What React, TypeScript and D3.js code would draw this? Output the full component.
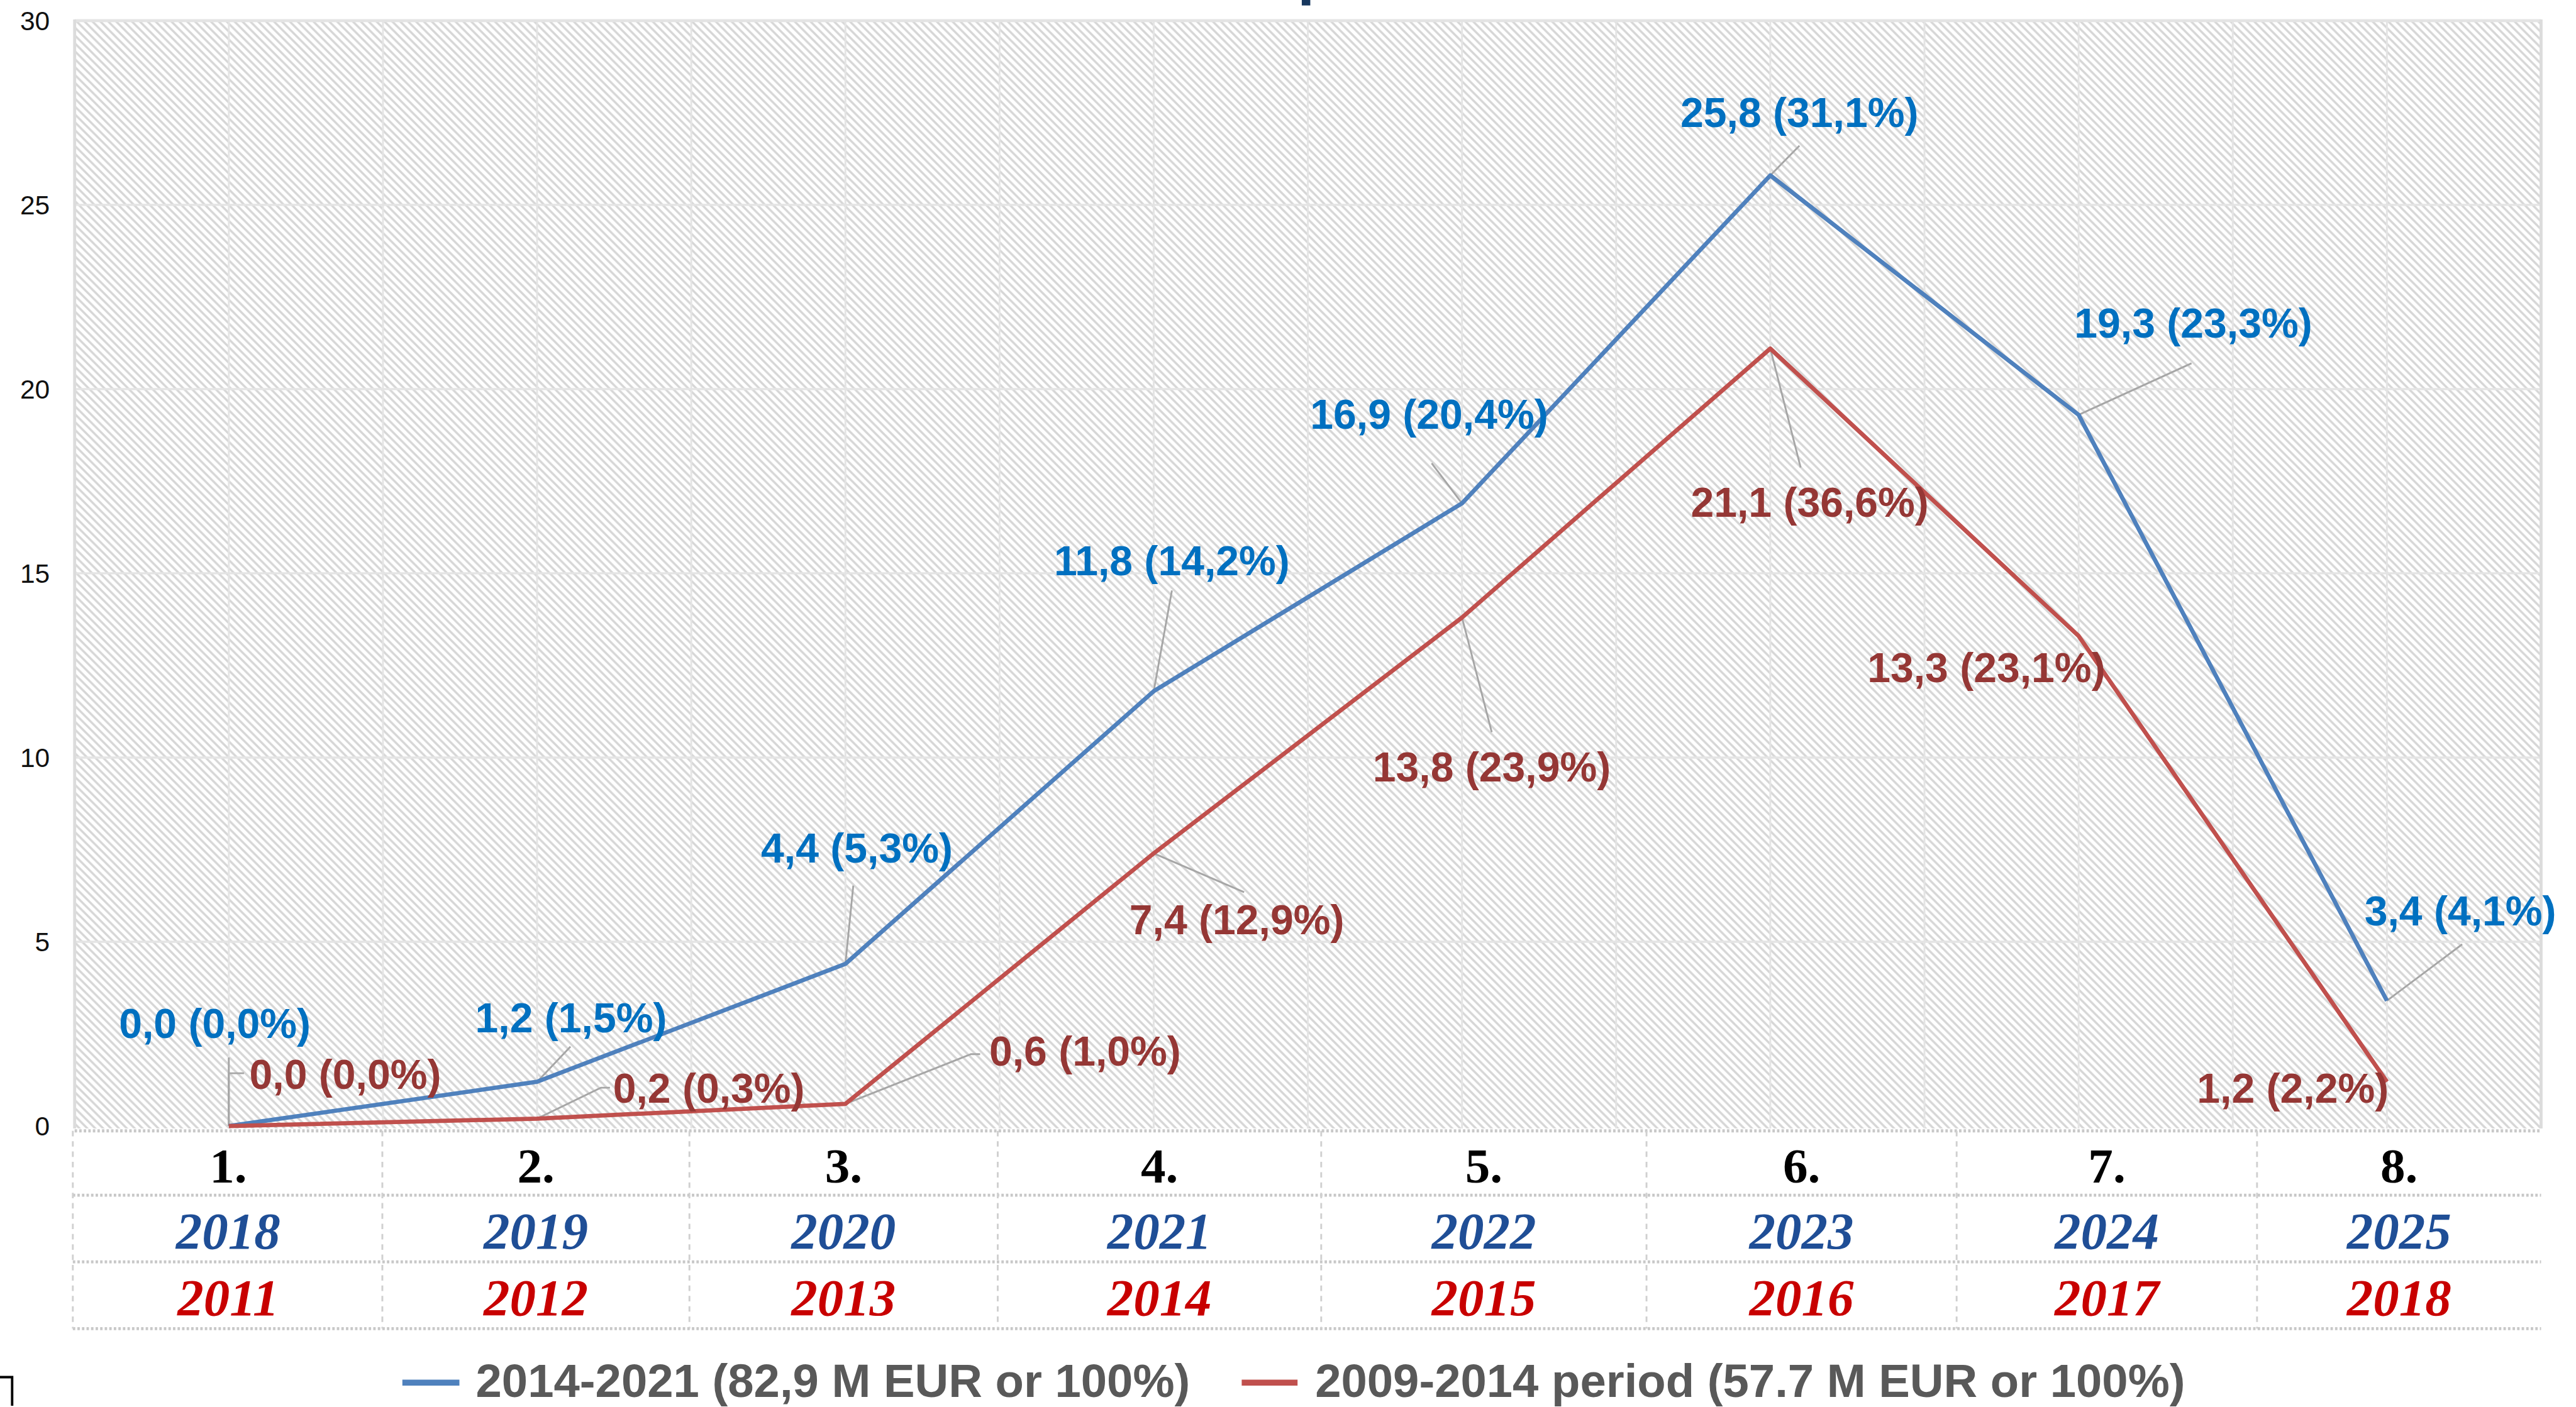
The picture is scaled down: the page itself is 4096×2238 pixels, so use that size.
import React from "react";
import * as d3 from "d3";

// ---------------- DATA ----------------
const categories = ["1.", "2.", "3.", "4.", "5.", "6.", "7.", "8."];
const yearsNew = ["2018", "2019", "2020", "2021", "2022", "2023", "2024", "2025"];
const yearsOld = ["2011", "2012", "2013", "2014", "2015", "2016", "2017", "2018"];
const seriesNewName = "2014-2021 (82,9 M EUR or 100%)";
const seriesOldName = "2009-2014 period (57.7 M EUR or 100%)";
const valuesNew = [0.0, 1.2, 4.4, 11.8, 16.9, 25.8, 19.3, 3.4];
const sharesNew = [0.0, 1.5, 5.3, 14.2, 20.4, 31.1, 23.3, 4.1];
const valuesOld = [0.0, 0.2, 0.6, 7.4, 13.8, 21.1, 13.3, 1.2];
const sharesOld = [0.0, 0.3, 1.0, 12.9, 23.9, 36.6, 23.1, 2.2];
const yTicks = [0, 5, 10, 15, 20, 25, 30];

// ---------------- LAYOUT (reference px, scaled by S) ----------------
const S = 0.965;
const W = 4241;
const H = 2317;
const PLOT = { left: 123, right: 4187, top: 34, bottom: 1856 };
const TABLE_ROWS = [1864, 1970, 2080, 2190];
const TABLE_COL_EDGES = [122, 630, 1136, 1644, 2177, 2713, 3224, 3719, 4187];
const TABLE_BASELINES = [1949, 2058, 2168];

// label centre offsets from point, leader polyline offsets from point
const labelOffNew = [[-23, -170], [56, -106], [19, -192], [30, -216], [-54, -147], [48, -104], [189, -152], [121, -149]];
const leaderNew = [[[0, -113]], [[55, -58]], [[13, -129]], [[30, -166]], [[-50, -66]], [[48, -49]], [[186, -85]], [[124, -93]]];
const labelOffOld = [[192, -86], [283, -51], [395, -88], [137, 109], [49, 246], [65, 253], [-152, 52], [-155, 10]];
const leaderOld = [[[0, -87], [25, -87]], [[105, -51], [120, -51]], [[207, -82], [222, -82]], [[149, 64]], [[49, 189]], [[50, 196]], [], []];

const COLORS = {
  lineNew: "#4F81BD",
  lineOld: "#C0504D",
  labelNew: "#0070C0",
  labelOld: "#953735",
  yearNew: "#1F4E96",
  yearOld: "#C80000",
  legend: "#595959",
  grid: "#e4e4e4",
  hatch: "#d6d6d6",
  leader: "#a6a6a6",
  table: "#c8c8c8",
};

const fmt = (v: number) => v.toFixed(1).replace(".", ",");

export default function App() {
  const x = d3.scaleBand<string>().domain(categories).range([PLOT.left, PLOT.right]).paddingInner(0).paddingOuter(0);
  const cx = (c: string) => (x(c) as number) + x.bandwidth() / 2;
  const y = d3.scaleLinear().domain([0, 30]).range([PLOT.bottom, PLOT.top]);
  const tableX = d3.scaleLinear().domain(d3.range(TABLE_COL_EDGES.length)).range(TABLE_COL_EDGES);

  const line = d3
    .line<number>()
    .x((_, i) => cx(categories[i]))
    .y((d) => y(d));

  const halfGrid = d3.range(1, categories.length * 2).map((k) => PLOT.left + (k * x.bandwidth()) / 2);

  const series = [
    { values: valuesNew, shares: sharesNew, color: COLORS.lineNew, labelColor: COLORS.labelNew, off: labelOffNew, leader: leaderNew },
    { values: valuesOld, shares: sharesOld, color: COLORS.lineOld, labelColor: COLORS.labelOld, off: labelOffOld, leader: leaderOld },
  ];

  const labelFont = 68.5;
  const labelCap = labelFont * 0.716;

  const legendItems = [
    { name: seriesNewName, color: COLORS.lineNew, x0: 663, x1: 757, tx: 784 },
    { name: seriesOldName, color: COLORS.lineOld, x0: 2046, x1: 2138, tx: 2167 },
  ];

  const P = 13;

  return (
    <svg
      width={4096}
      height={2238}
      style={{ position: "absolute", left: 0, top: 0, background: "#fff", display: "block" }}
      xmlns="http://www.w3.org/2000/svg"
    >
      <defs>
        <pattern id="hatch" patternUnits="userSpaceOnUse" width={P} height={P}>
          <rect width={P} height={P} fill="#ffffff" />
          <path d={`M-${P / 2},-${P / 2} L${P * 1.5},${P * 1.5} M${P / 2},-${P / 2} L${P * 1.5},${P / 2} M-${P / 2},${P / 2} L${P / 2},${P * 1.5}`} stroke={COLORS.hatch} strokeWidth={3.6} />
        </pattern>
        <clipPath id="plotclip">
          <rect x={PLOT.left} y={PLOT.top - 2} width={PLOT.right - PLOT.left} height={PLOT.bottom - PLOT.top + 6} />
        </clipPath>
      </defs>
      <g transform={`scale(${S})`}>
        <rect x={0} y={0} width={W} height={H} fill="#fff" />

        {/* clipped title descender remnant */}
        <rect x={2145} y={0} width={14} height={9} fill="#17375E" />

        {/* plot background */}
        <rect x={PLOT.left} y={PLOT.top} width={PLOT.right - PLOT.left} height={PLOT.bottom - PLOT.top + 4} fill="url(#hatch)" />

        {/* vertical gridlines */}
        {halfGrid.map((gx, i) => (
          <line key={"vg" + i} x1={gx} x2={gx} y1={PLOT.top} y2={PLOT.bottom + 4} stroke={COLORS.grid} strokeWidth={3} />
        ))}
        {/* horizontal gridlines */}
        {yTicks.filter((t) => t > 0).map((t) => (
          <line key={"hg" + t} x1={PLOT.left} x2={PLOT.right} y1={y(t)} y2={y(t)} stroke={COLORS.grid} strokeWidth={t === 30 ? 5 : 3.5} />
        ))}
        {/* plot border left/right */}
        <line x1={PLOT.left} x2={PLOT.left} y1={PLOT.top - 2} y2={PLOT.bottom + 4} stroke="#dcdcdc" strokeWidth={5} />
        <line x1={PLOT.right} x2={PLOT.right} y1={PLOT.top - 2} y2={PLOT.bottom + 4} stroke="#dcdcdc" strokeWidth={5} />

        {/* y tick labels */}
        {yTicks.map((t) => (
          <text key={"yt" + t} x={82} y={y(t) + 16} textAnchor="end" fontFamily="Liberation Sans, Arial, sans-serif" fontSize={44} fill="#111">
            {t}
          </text>
        ))}

        {/* table */}
        {TABLE_ROWS.map((ry, i) => (
          <line key={"tr" + i} x1={i === 0 ? PLOT.left : 120} x2={PLOT.right} y1={ry} y2={ry} stroke={COLORS.table} strokeWidth={5} strokeDasharray="4 3.5" />
        ))}
        {TABLE_COL_EDGES.slice(0, -1).map((ex, i) => (
          <line key={"tc" + i} x1={i === 0 ? 120 : ex} x2={i === 0 ? 120 : ex} y1={TABLE_ROWS[0]} y2={TABLE_ROWS[3]} stroke="#d0d0d0" strokeWidth={3} strokeDasharray="9 8" />
        ))}
        {categories.map((c, i) => (
          <g key={"tt" + i}>
            <text x={tableX(i + 0.5)} y={TABLE_BASELINES[0]} textAnchor="middle" fontFamily="Liberation Serif, Times New Roman, serif" fontWeight="bold" fontSize={82} fill="#000">
              {c}
            </text>
            <text x={tableX(i + 0.5)} y={TABLE_BASELINES[1]} textAnchor="middle" fontFamily="Liberation Serif, Times New Roman, serif" fontWeight="bold" fontStyle="italic" fontSize={86} fill={COLORS.yearNew}>
              {yearsNew[i]}
            </text>
            <text x={tableX(i + 0.5)} y={TABLE_BASELINES[2]} textAnchor="middle" fontFamily="Liberation Serif, Times New Roman, serif" fontWeight="bold" fontStyle="italic" fontSize={86} fill={COLORS.yearOld}>
              {yearsOld[i]}
            </text>
          </g>
        ))}

        {/* leader lines */}
        {series.map((s, si) =>
          s.values.map((v, i) => {
            const px = cx(categories[i]);
            const py = y(v);
            const pts = [[px, py], ...s.leader[i].map(([dx, dy]) => [px + dx, py + dy])];
            if (pts.length < 2) return null;
            return (
              <polyline key={`ld${si}-${i}`} points={pts.map((p) => p.join(",")).join(" ")} fill="none" stroke={COLORS.leader} strokeWidth={3} />
            );
          })
        )}

        {/* series lines */}
        <g clipPath="url(#plotclip)">
          {series.map((s, si) => (
            <path key={"ln" + si} d={line(s.values) || ""} fill="none" stroke={s.color} strokeWidth={7} strokeLinejoin="round" />
          ))}
        </g>

        {/* data labels */}
        {series.map((s, si) =>
          s.values.map((v, i) => {
            const px = cx(categories[i]) + s.off[i][0];
            const py = y(v) + s.off[i][1];
            return (
              <text
                key={`lb${si}-${i}`}
                x={px}
                y={py + labelCap / 2}
                textAnchor="middle"
                fontFamily="Liberation Sans, Arial, sans-serif"
                fontWeight="bold"
                fontSize={labelFont}
                fill={s.labelColor}
              >
                {`${fmt(v)} (${fmt(s.shares[i])}%)`}
              </text>
            );
          })
        )}

        {/* legend */}
        {legendItems.map((it, i) => (
          <g key={"lg" + i}>
            <line x1={it.x0} x2={it.x1} y1={2279} y2={2279} stroke={it.color} strokeWidth={10} />
            <text x={it.tx} y={2303} fontFamily="Liberation Sans, Arial, sans-serif" fontWeight="bold" fontSize={77} fill={COLORS.legend}>
              {it.name}
            </text>
          </g>
        ))}

        {/* corner artifact */}
        <path d="M0,2270 H20 V2317" fill="none" stroke="#000" strokeWidth={4} />
      </g>
    </svg>
  );
}
